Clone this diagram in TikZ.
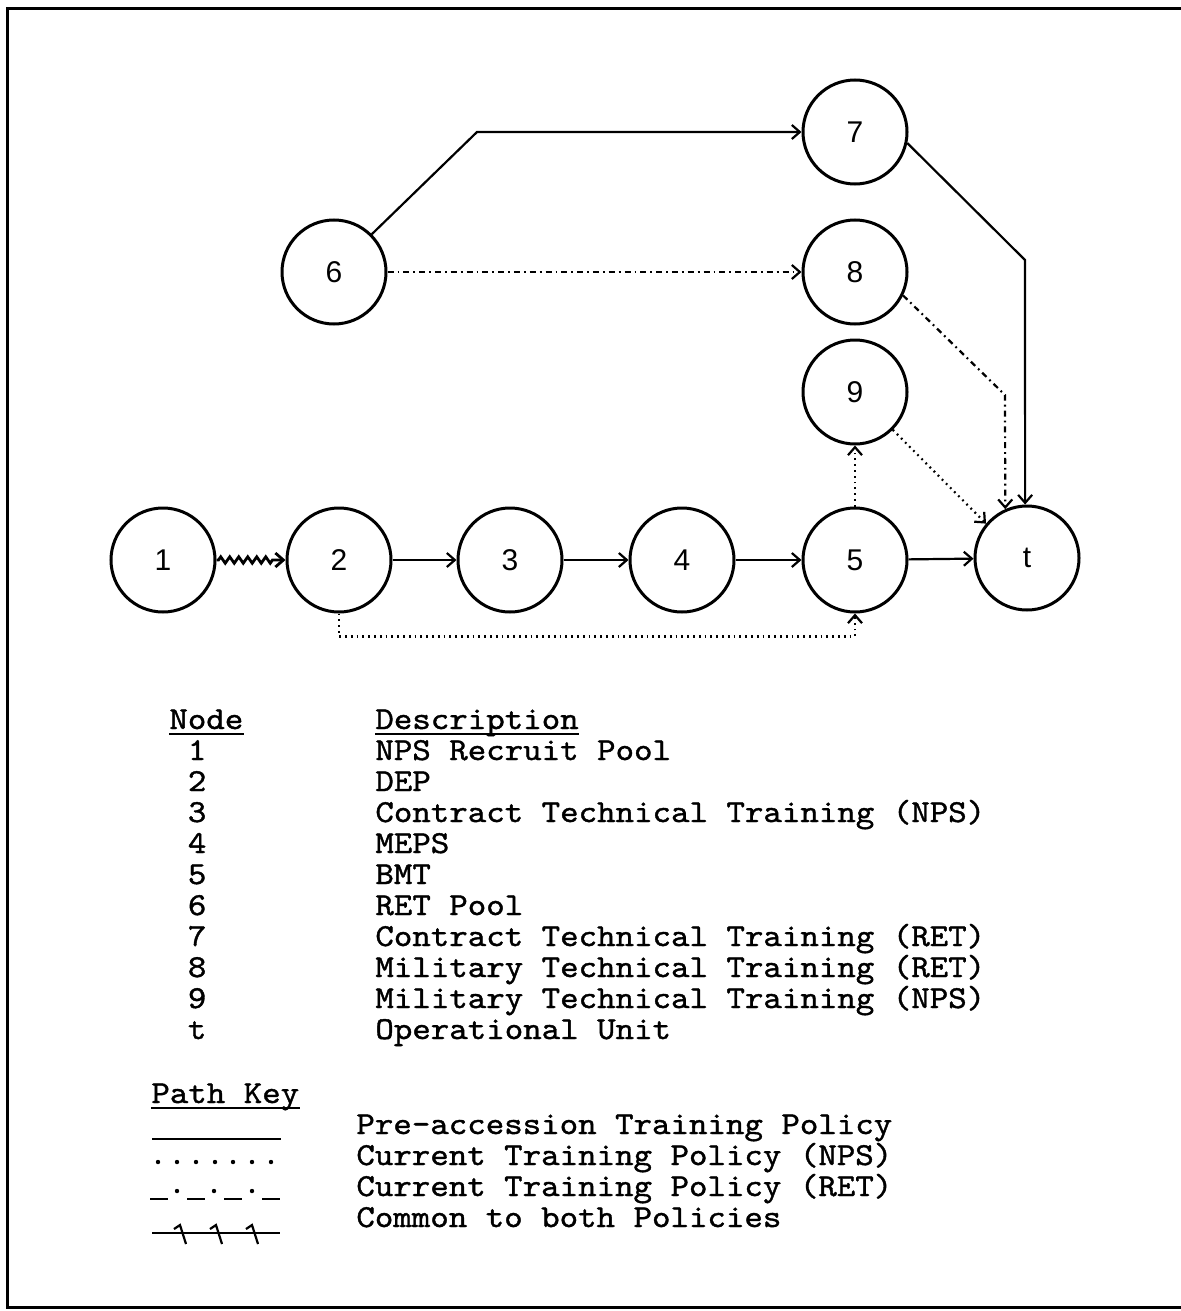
\documentclass[tikz,border=0pt]{standalone}
\usepackage{fontspec}
\setmonofont[FakeStretch=1.1,FakeBold=1.2]{lmmono10-regular.otf}
\newfontfamily\circfont{Liberation Sans}
\usetikzlibrary{arrows.meta,decorations.pathmorphing}

\tikzset{
  state/.style={circle, draw, line width=1.5pt, minimum size=52pt, inner sep=0pt,
    font=\circfont\fontsize{15}{15}\selectfont},
  flow/.style={line width=1.1pt, -{Straight Barb[length=4pt,width=7pt]}},
  npsflow/.style={flow, dash pattern=on 0.9pt off 2pt},
  retflow/.style={flow, dash pattern=on 3pt off 2pt on 0.9pt off 2pt},
  comflow/.style={flow, line width=1.4pt, decorate, decoration={zigzag, segment length=4.5pt, amplitude=1.6pt, pre length=1pt, post length=5pt}},
  txt/.style={anchor=base west, inner sep=0pt, font=\ttfamily\fontsize{16}{16}\selectfont},
  keyline/.style={line width=1.1pt}
}

\begin{document}
\begin{tikzpicture}[x=0.5pt, y=-0.5pt, >=Straight Barb]
    \useasboundingbox (0,0) rectangle (1181,1311);
    \draw[line width=1.5pt] (1181,9) -- (7,9) -- (7,1307) -- (1181,1307);

    % network
    \node[state] (n1) at (163,560) {1};
    \node[state] (n2) at (339,560) {2};
    \node[state] (n3) at (510,560) {3};
    \node[state] (n4) at (682,560) {4};
    \node[state] (n5) at (855,560) {5};
    \node[state] (nt) at (1027,558) {t};
    \node[state] (n6) at (334,272) {6};
    \node[state] (n7) at (855,132) {7};
    \node[state] (n8) at (855,272) {8};
    \node[state] (n9) at (855,392) {9};

    \coordinate (b67) at (477,132);
    \coordinate (b7t) at (1025,260);
    \coordinate (b8t) at (1005,395);

    \draw[comflow] (n1) -- (n2);
    \draw[flow] (n2) -- (n3);
    \draw[flow] (n3) -- (n4);
    \draw[flow] (n4) -- (n5);
    \draw[flow] (n5) -- (nt);
    \draw[flow] (n6.45) -- (b67) -- (n7.west);
    \draw[flow] (n7.-12) -- (b7t) -- (nt.92);
    \draw[retflow] (n6) -- (n8);
    \draw[retflow] (n8.-26) -- (b8t) -- (nt.114);
    \draw[npsflow] (n5) -- (n9);
    \draw[npsflow] (n9.-45) -- (nt.140);
    \draw[npsflow] (n2.south) -- ++(0,23) -| (n5.south);

    % node table
    \node[txt] (hnode) at (169,729) {Node};
    \node[txt] (hdesc) at (375,729) {Description};
    \foreach \n/\desc [count=\i] in {1/NPS Recruit Pool, 2/DEP,
        3/Contract Technical Training (NPS), 4/MEPS, 5/BMT, 6/RET Pool,
        7/Contract Technical Training (RET), 8/Military Technical Training (RET),
        9/Military Technical Training (NPS), t/Operational Unit} {
        \node[txt] (num\i) at (187.5,{729+31*\i}) {\n};
        \node[txt] (desc\i) at (375,{729+31*\i}) {\desc};
    }

    % path key
    \node[txt] (hkey) at (151,1103) {Path Key};
    \node[txt] (key1) at (356,1134) {Pre-accession Training Policy};
    \node[txt] (key2) at (356,1165) {Current Training Policy (NPS)};
    \node[txt] (key3) at (356,1196) {Current Training Policy (RET)};
    \node[txt] (key4) at (356,1227) {Common to both Policies};

    \foreach \h in {hnode,hdesc,hkey}
        \draw[keyline] ([yshift=-2.5pt]\h.base west) -- ([yshift=-2.5pt]\h.base east);

    \draw[keyline] (152,1139) -- (281,1139);
    \foreach \x in {158,177,196,215,233,252,271}
        \fill (\x,1162) circle (2.2);
    \foreach \x in {150,187,224,262}
        \draw[keyline] (\x,1199) -- (\x+18,1199);
    \foreach \x in {177,214,252}
        \fill (\x,1191) circle (2.2);
    \draw[keyline] (152,1233) -- (280,1233);
    \foreach \x in {182,218,254}
        \draw[keyline] (\x-8,1229) -- (\x-2,1225) -- (\x+4,1244);
\end{tikzpicture}
\end{document}
